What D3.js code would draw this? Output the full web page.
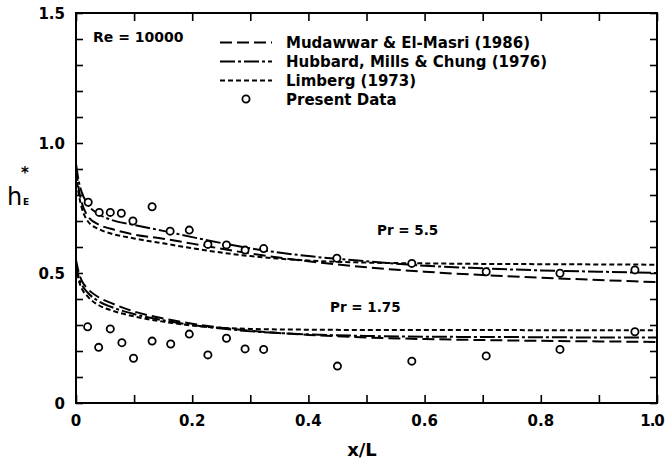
<!DOCTYPE html>
<html>
<head>
<meta charset="utf-8">
<script src="https://cdn.jsdelivr.net/npm/d3@7"></script>
<style>
  body { margin: 0; background: #fff; }
  svg { display: block; }
  text { font-family: "DejaVu Sans", sans-serif; fill: #000; }
</style>
</head>
<body>
<div id="chart"></div>
<script>
// x/L sample points for the correlation curves
const curveX = [0, 0.005, 0.01, 0.02, 0.04, 0.06, 0.1, 0.15, 0.2, 0.3, 0.4, 0.5, 0.6, 0.7, 0.8, 0.9, 1.0];

// Pr = 5.5
const mudawwar55 = [0.90, 0.82, 0.77, 0.72, 0.685, 0.67, 0.648, 0.632, 0.613, 0.575, 0.545, 0.522, 0.505, 0.492, 0.482, 0.473, 0.465];
const hubbard55  = [0.92, 0.85, 0.81, 0.765, 0.725, 0.705, 0.685, 0.662, 0.638, 0.595, 0.565, 0.545, 0.528, 0.518, 0.51, 0.505, 0.50];
const limberg55  = [0.88, 0.80, 0.75, 0.70, 0.668, 0.652, 0.633, 0.614, 0.595, 0.565, 0.548, 0.54, 0.537, 0.535, 0.534, 0.533, 0.532];

// Pr = 1.75
const mudawwar175 = [0.55, 0.50, 0.47, 0.44, 0.405, 0.385, 0.352, 0.325, 0.305, 0.278, 0.262, 0.252, 0.246, 0.242, 0.239, 0.237, 0.235];
const hubbard175  = [0.54, 0.48, 0.455, 0.425, 0.39, 0.37, 0.342, 0.318, 0.30, 0.276, 0.264, 0.258, 0.255, 0.254, 0.253, 0.252, 0.252];
const limberg175  = [0.53, 0.47, 0.44, 0.41, 0.375, 0.357, 0.333, 0.313, 0.298, 0.285, 0.282, 0.281, 0.281, 0.281, 0.28, 0.28, 0.28];

// present data
const dataX55 = [0.021, 0.040, 0.059, 0.078, 0.098, 0.131, 0.162, 0.195, 0.227, 0.259, 0.291, 0.323, 0.449, 0.578, 0.706, 0.833, 0.962];
const dataY55 = [0.772, 0.733, 0.733, 0.730, 0.700, 0.755, 0.661, 0.665, 0.610, 0.608, 0.588, 0.594, 0.557, 0.537, 0.505, 0.499, 0.512];
const dataX175 = [0.020, 0.039, 0.059, 0.079, 0.099, 0.131, 0.163, 0.195, 0.227, 0.259, 0.291, 0.323, 0.450, 0.578, 0.706, 0.833, 0.962];
const dataY175 = [0.293, 0.214, 0.285, 0.232, 0.172, 0.238, 0.227, 0.265, 0.185, 0.249, 0.208, 0.206, 0.142, 0.161, 0.181, 0.206, 0.274];

const xTickLabels = [0, 0.2, 0.4, 0.6, 0.8, 1.0];
const yTickLabels = [0, 0.5, 1.0, 1.5];
const legendNames = ["Mudawwar & El-Masri (1986)", "Hubbard, Mills & Chung (1976)", "Limberg (1973)", "Present Data"];

const width = 667;
const height = 461;
const plotLeft = 76, plotRight = 657, plotTop = 13, plotBottom = 403;

const dashes = {
  mudawwar: "12,5",
  hubbard: "15,3,3,3",
  limberg: "5,3"
};

const svg = d3.select("#chart")
  .append("svg")
  .attr("width", width)
  .attr("height", height);

const x = d3.scaleLinear().domain([0, 1]).range([plotLeft, plotRight]);
const y = d3.scaleLinear().domain([0, 1.5]).range([plotBottom, plotTop]);

// ticks, all pointing inward
const minorX = d3.range(0, 11).map(d => d / 10);
const minorY = d3.range(0, 16).map(d => d / 10);

svg.append("g")
  .attr("transform", `translate(0,${plotBottom})`)
  .call(d3.axisTop(x).tickValues(minorX).tickSize(8).tickFormat(""))
  .call(g => g.select(".domain").remove());
svg.append("g")
  .attr("transform", `translate(0,${plotTop})`)
  .call(d3.axisBottom(x).tickValues(minorX).tickSize(8).tickFormat(""))
  .call(g => g.select(".domain").remove());
svg.append("g")
  .attr("transform", `translate(${plotLeft},0)`)
  .call(d3.axisRight(y).tickValues(minorY).tickSize(7).tickFormat(""))
  .call(g => g.select(".domain").remove());
svg.append("g")
  .attr("transform", `translate(${plotRight},0)`)
  .call(d3.axisLeft(y).tickValues(minorY).tickSize(7).tickFormat(""))
  .call(g => g.select(".domain").remove());

svg.selectAll(".tick line").attr("stroke", "#000").attr("stroke-width", 1.6);

// frame
svg.append("rect")
  .attr("x", plotLeft).attr("y", plotTop)
  .attr("width", plotRight - plotLeft).attr("height", plotBottom - plotTop)
  .attr("fill", "none").attr("stroke", "#000").attr("stroke-width", 2);

// tick labels (last one pulled in so it stays on the page)
svg.selectAll(".xlab")
  .data(xTickLabels)
  .enter().append("text")
  .attr("x", d => x(d))
  .attr("dx", d => d === 1 ? -5 : 0)
  .attr("y", plotBottom + 23)
  .attr("text-anchor", "middle")
  .style("font-size", "15px")
  .style("font-weight", "bold")
  .style("letter-spacing", d => d === 1 ? "-1px" : "0px")
  .text(d => d === 0 ? "0" : d.toFixed(1));

svg.selectAll(".ylab")
  .data(yTickLabels)
  .enter().append("text")
  .attr("x", plotLeft - 11)
  .attr("y", d => y(d) + 6)
  .attr("text-anchor", "end")
  .style("font-size", "15px")
  .style("font-weight", "bold")
  .text(d => d === 0 ? "0" : d.toFixed(1));

// axis titles
svg.append("text")
  .attr("x", 362).attr("y", 456)
  .attr("text-anchor", "middle")
  .style("font-size", "18px")
  .style("font-weight", "bold")
  .text("x/L");

// h_E with * superscript
svg.append("text").attr("x", 7).attr("y", 205)
  .style("font-size", "24px").text("h");
svg.append("text").attr("x", 23).attr("y", 205)
  .style("font-size", "9px").style("font-weight", "bold").text("E");
svg.append("text").attr("x", 21).attr("y", 178)
  .style("font-size", "15px").style("font-weight", "bold").text("*");

// curves
const line = d3.line()
  .x(d => x(d[0]))
  .y(d => y(d[1]))
  .curve(d3.curveMonotoneX);

const curves = [
  [mudawwar55, dashes.mudawwar],
  [hubbard55, dashes.hubbard],
  [limberg55, dashes.limberg],
  [mudawwar175, dashes.mudawwar],
  [hubbard175, dashes.hubbard],
  [limberg175, dashes.limberg]
];

curves.forEach(([vals, dash]) => {
  svg.append("path")
    .datum(curveX.map((d, i) => [d, vals[i]]))
    .attr("d", line)
    .attr("fill", "none")
    .attr("stroke", "#000")
    .attr("stroke-width", 2)
    .attr("stroke-dasharray", dash);
});

// data points
const points = dataX55.map((d, i) => [d, dataY55[i]])
  .concat(dataX175.map((d, i) => [d, dataY175[i]]));

svg.selectAll(".pt")
  .data(points)
  .enter().append("circle")
  .attr("cx", d => x(d[0]))
  .attr("cy", d => y(d[1]))
  .attr("r", 3.6)
  .attr("fill", "#fff")
  .attr("stroke", "#000")
  .attr("stroke-width", 1.8);

// curve labels
svg.append("text").attr("x", 377).attr("y", 235)
  .style("font-size", "13.5px").style("font-weight", "bold").text("Pr = 5.5");
svg.append("text").attr("x", 330).attr("y", 312)
  .style("font-size", "13.5px").style("font-weight", "bold").text("Pr = 1.75");

// legend
svg.append("text").attr("x", 93).attr("y", 42)
  .style("font-size", "14px").style("font-weight", "bold").text("Re = 10000");

const legendDash = [dashes.mudawwar, dashes.hubbard, dashes.limberg, null];
const legend = svg.selectAll(".leg")
  .data(legendNames)
  .enter().append("g")
  .attr("transform", (d, i) => `translate(0,${48 + i * 19})`);

legend.append("text")
  .attr("x", 286).attr("y", 0)
  .style("font-size", "15px")
  .style("font-weight", "bold")
  .text(d => d);

legend.filter((d, i) => legendDash[i] !== null)
  .append("line")
  .attr("x1", 220).attr("x2", 272)
  .attr("y1", -5.5).attr("y2", -5.5)
  .attr("stroke", "#000")
  .attr("stroke-width", 2)
  .attr("stroke-dasharray", (d, i) => legendDash[i]);

legend.filter((d, i) => legendDash[i] === null)
  .append("circle")
  .attr("cx", 246).attr("cy", -6)
  .attr("r", 3.6)
  .attr("fill", "#fff")
  .attr("stroke", "#000")
  .attr("stroke-width", 1.8);
</script>
</body>
</html>
